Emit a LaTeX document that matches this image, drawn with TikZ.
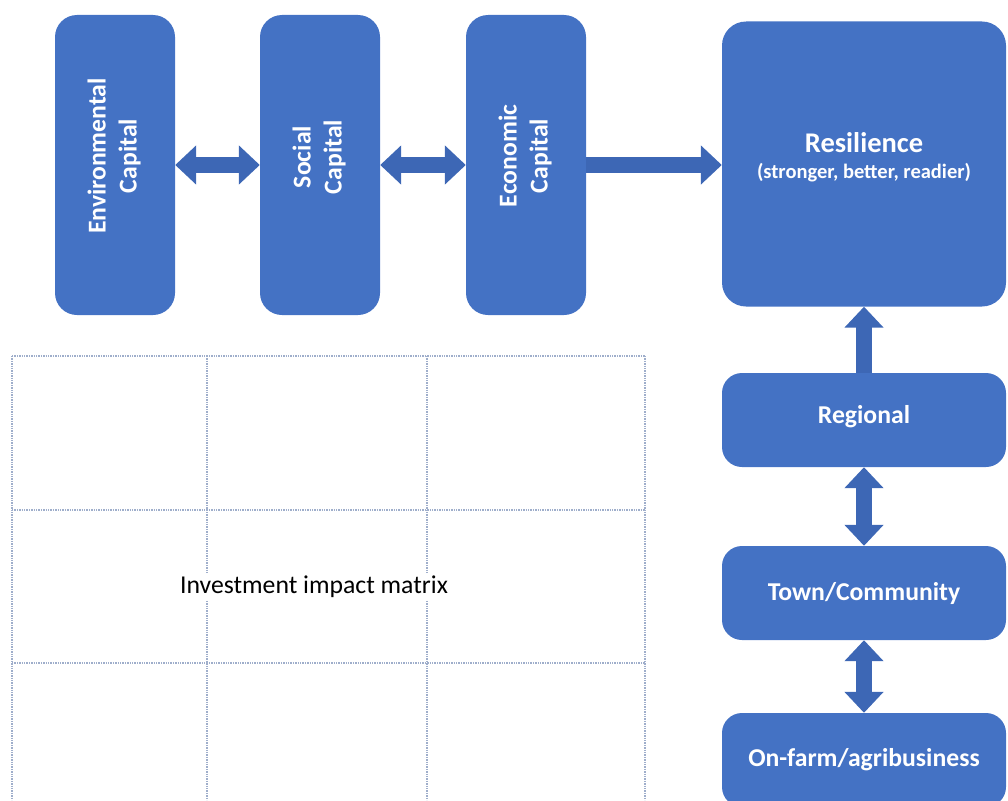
\documentclass[tikz,border=0pt]{standalone}
\usepackage{fontspec}
\setmainfont{Carlito}
\usetikzlibrary{arrows.meta}
\definecolor{boxblue}{HTML}{4472C4}
\definecolor{arrblue}{HTML}{3D67B5}
\definecolor{gridgray}{HTML}{9FAECB}
\begin{document}
\begin{tikzpicture}[x=1pt,y=-1pt,
  capbox/.style={fill=boxblue,rounded corners=22pt,minimum width=120pt,minimum height=300pt,text=white,font=\bfseries\fontsize{25.7}{31}\selectfont,align=center,inner sep=0pt},
  levelbox/.style={fill=boxblue,rounded corners=20pt,minimum width=284pt,minimum height=94pt,text=white,font=\bfseries\fontsize{25.7}{30}\selectfont,inner sep=0pt},
  blockarrow/.style={draw=arrblue,line width=16pt,arrows={-{Triangle[length=21pt,width=38pt]}}},
  dblarrow/.style={draw=arrblue,line width=16pt,arrows={{Triangle[length=21pt,width=38pt]}-{Triangle[length=21pt,width=38pt]}}},
  gridline/.style={draw=gridgray,densely dotted,line width=1.4pt}]
  \useasboundingbox (0,0) rectangle (1008,800);
  % investment matrix
  \foreach \x in {12,207,427,645}
    \draw[gridline] (\x,356)--(\x,800);
  \foreach \y in {356,510,663}
    \draw[gridline] (12,\y)--(645,\y);
  \node[fill=white,inner sep=2pt,font=\fontsize{25.7}{30}\selectfont] (matrix) at (314,587) {Investment impact matrix};
  % capitals
  \node[capbox] (env) at (115,165) {\rotatebox{90}{\begin{tabular}{@{\hspace{18pt}}c@{}}Environmental\\Capital\end{tabular}}};
  \node[capbox] (soc) at (320,165) {\rotatebox{90}{\begin{tabular}{@{\hspace{16pt}}c@{}}Social\\Capital\end{tabular}}};
  \node[capbox] (eco) at (526,165) {\rotatebox{90}{\begin{tabular}{@{\hspace{18pt}}c@{}}Economic\\Capital\end{tabular}}};
  % resilience and levels
  \node[levelbox,minimum height=285pt,rounded corners=24pt,align=center] (res) at (864,164)
    {\fontsize{28.5}{30}\selectfont Resilience\\[-4pt]{\fontsize{20.5}{22}\selectfont (stronger, better, readier)}\\[-12pt]};
  \node[levelbox] (reg) at (864,420) {\raisebox{3pt}[\height][\depth]{Regional}};
  \node[levelbox] (town) at (864,593) {Town/Community};
  \node[levelbox] (farm) at (864,760) {On-farm/agribusiness};
  \draw[dblarrow] (env)--(soc);
  \draw[dblarrow] (soc)--(eco);
  \draw[blockarrow] (eco.east|-0,165)--(res.west|-0,165);
  \draw[blockarrow] (reg)--(res);
  \draw[dblarrow] (reg)--(town);
  \draw[dblarrow] (town)--(farm);
\end{tikzpicture}
\end{document}
